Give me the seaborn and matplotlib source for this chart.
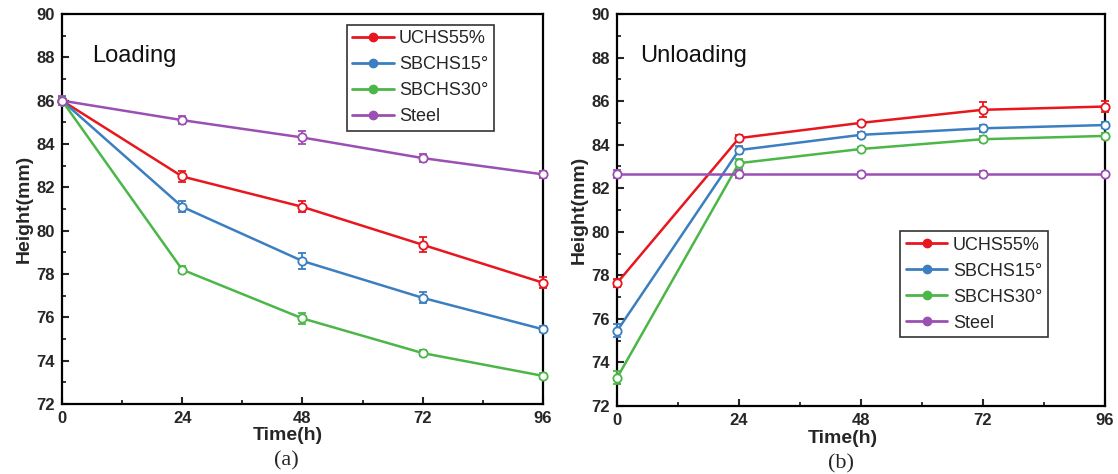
import numpy as np
import pandas as pd
import matplotlib
matplotlib.use("Agg")
import matplotlib.pyplot as plt
import seaborn as sns
from matplotlib.lines import Line2D
from matplotlib.ticker import MultipleLocator

sns.set_theme(style="ticks")
plt.rcParams['font.family'] = ['Liberation Sans', 'DejaVu Sans']

time = [0, 24, 48, 72, 96]
series = ["UCHS55%", "SBCHS15°", "SBCHS30°", "Steel"]
colors = ["#e8161e", "#3b7fc0", "#4cb648", "#9b4fb2"]

load_uchs = [86.0, 82.5, 81.1, 79.35, 77.6]
load_sb15 = [86.0, 81.1, 78.6, 76.9, 75.45]
load_sb30 = [86.0, 78.2, 75.95, 74.35, 73.3]
load_steel = [86.0, 85.1, 84.3, 83.35, 82.6]
load_err_uchs = [0.1, 0.25, 0.25, 0.35, 0.25]
load_err_sb15 = [0.15, 0.25, 0.35, 0.25, 0.15]
load_err_sb30 = [0.1, 0.15, 0.25, 0.15, 0.15]
load_err_steel = [0.2, 0.2, 0.3, 0.2, 0.15]

unload_uchs = [77.65, 84.3, 85.0, 85.6, 85.75]
unload_sb15 = [75.45, 83.75, 84.45, 84.75, 84.9]
unload_sb30 = [73.3, 83.15, 83.8, 84.25, 84.4]
unload_steel = [82.65, 82.65, 82.65, 82.65, 82.65]
unload_err_uchs = [0.2, 0.15, 0.1, 0.35, 0.25]
unload_err_sb15 = [0.3, 0.2, 0.15, 0.15, 0.15]
unload_err_sb30 = [0.3, 0.2, 0.1, 0.15, 0.15]
unload_err_steel = [0.2, 0.2, 0.1, 0.15, 0.1]


def make_df(vals, errs):
    rows = []
    for name, v, e in zip(series, vals, errs):
        for t, y, err in zip(time, v, e):
            rows.append({"Time": t, "Height": y, "err": err, "Series": name})
    return pd.DataFrame(rows)


df_load = make_df([load_uchs, load_sb15, load_sb30, load_steel],
                  [load_err_uchs, load_err_sb15, load_err_sb30, load_err_steel])
df_unload = make_df([unload_uchs, unload_sb15, unload_sb30, unload_steel],
                    [unload_err_uchs, unload_err_sb15, unload_err_sb30, unload_err_steel])

fig = plt.figure(figsize=(11.18, 4.74), dpi=100)
ax1 = fig.add_axes([0.0555, 0.1477, 0.430, 0.8228])
ax2 = fig.add_axes([0.552, 0.1435, 0.436, 0.8270])

palette = dict(zip(series, colors))


def draw(ax, df, title, title_x, label, label_x, legend_anchor):
    sns.lineplot(data=df, x="Time", y="Height", hue="Series", palette=palette,
                 hue_order=series, ax=ax, linewidth=1.8, legend=False,
                 errorbar=None, zorder=2)
    for name in series:
        sub = df[df.Series == name]
        ax.errorbar(sub.Time, sub.Height, yerr=sub.err, fmt='o', ms=6,
                    mfc='white', mec=palette[name], mew=1.3,
                    ecolor=palette[name], elinewidth=1.3, capsize=3,
                    capthick=1.3, zorder=3, clip_on=False)
    ax.set_xlim(0, 96)
    ax.set_ylim(72, 90)
    ax.set_xticks(time)
    ax.set_yticks(np.arange(72, 91, 2))
    ax.xaxis.set_minor_locator(MultipleLocator(12))
    ax.yaxis.set_minor_locator(MultipleLocator(1))
    ax.tick_params(axis='both', which='major', direction='in', length=5,
                   width=1.5, labelsize=12, pad=5)
    ax.tick_params(axis='both', which='minor', direction='in', length=3,
                   width=1.3)
    for lab in ax.get_xticklabels() + ax.get_yticklabels():
        lab.set_fontweight('bold')
    for s in ax.spines.values():
        s.set_linewidth(1.6)
        s.set_color('black')
    ax.set_xlabel("Time(h)", fontsize=14, fontweight='bold')
    ax.xaxis.set_label_coords(label_x, -0.06)
    ax.set_ylabel("Height(mm)", fontsize=14, fontweight='bold', labelpad=3)
    ax.text(title_x, 0.892, title, transform=ax.transAxes, fontsize=17,
            ha='left', va='center', color='#111111')
    ax.text(label_x - 0.004, -0.122, label, transform=ax.transAxes, fontsize=16,
            ha='center', va='top', family=['Liberation Serif'])
    handles = [Line2D([0], [0], color=c, lw=2, marker='o', ms=6, mfc=c, mec=c)
               for c in colors]
    leg = ax.legend(handles, series, loc='upper right',
                    bbox_to_anchor=legend_anchor, fontsize=13,
                    frameon=True, fancybox=False, edgecolor='black',
                    handlelength=2.3, handletextpad=0.3, labelspacing=0.5,
                    borderpad=0.3, borderaxespad=0.0)
    leg.get_frame().set_linewidth(1.2)


draw(ax1, df_load, "Loading", 0.062, "(a)", 0.47, (0.898, 0.972))
draw(ax2, df_unload, "Unloading", 0.047, "(b)", 0.463, (0.883, 0.446))

fig.savefig("out.png", dpi=100)
